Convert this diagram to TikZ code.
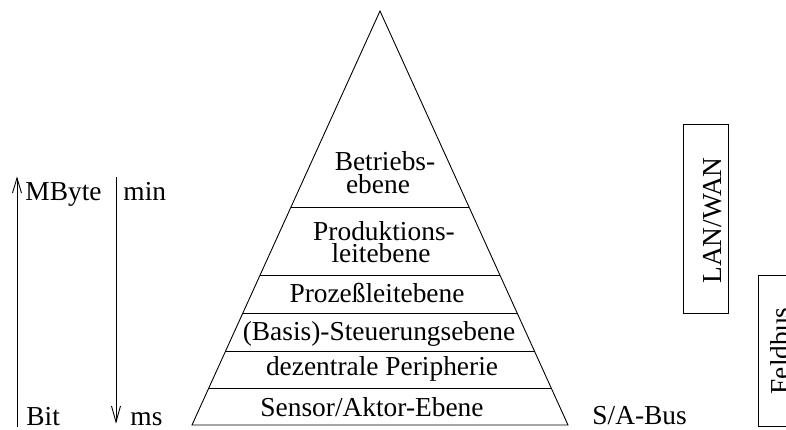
\documentclass[tikz,border=0pt]{standalone}
\usepackage{fontspec}
\setmainfont{Liberation Serif}
\usetikzlibrary{calc}
\begin{document}
\begin{tikzpicture}[x=1pt,y=-1pt,line width=0.9pt,
  lbl/.style={font=\fontsize{27.4}{30}\selectfont,inner sep=0pt,anchor=base,text height=18pt,text depth=4pt},
  lblw/.style={lbl,anchor=base west},
  vlbl/.style={lbl,rotate=90}]
\useasboundingbox (0,0) rectangle (786,429);
\clip (0,0) rectangle (786,429);
% pyramid
\coordinate (apex) at (380,11);
\coordinate (bl) at (192,425);
\coordinate (br) at (568,425);
\draw (bl) -- (apex) -- (br) -- cycle;
\foreach \f in {0.4734,0.6377,0.7295,0.8213,0.9106}
  \draw ($(apex)!\f!(bl)$) -- ($(apex)!\f!(br)$);
% level labels
\node[lbl] (l1a) at (385,170) {Betriebs-};
\node[lbl] (l1b) at (378,193) {ebene};
\node[lbl] (l2a) at (384,240) {Produktions-};
\node[lbl] (l2b) at (381,262) {leitebene};
\node[lbl] (l3) at (377,302) {Prozeßleitebene};
\node[lbl] (l4) at (379,340) {(Basis)-Steuerungsebene};
\node[lbl] (l5) at (382,375) {dezentrale Peripherie};
\node[lbl] (l6) at (372,416) {Sensor/Aktor-Ebene};
% left scales
\coordinate (upb) at (17,427);
\coordinate (upt) at (17,178);
\draw (upb) -- (upt);
\draw ($(upt)+(-4.5,15)$) -- (upt) -- ($(upt)+(4.5,15)$);
\coordinate (dnt) at (116,177);
\coordinate (dnb) at (116,422);
\draw (dnt) -- (dnb);
\draw ($(dnb)+(-4.5,-16)$) -- (dnb) -- ($(dnb)+(4.5,-16)$);
\node[lblw] (mbyte) at (25,200) {MByte};
\node[lblw,text depth=0pt] (bit) at (26,425) {Bit};
\node[lblw] (min) at (123,200) {min};
\node[lblw,text depth=0pt] (ms) at (130,425) {ms};
% bus labels
\node[lblw,text depth=0pt] (sabus) at (592,424) {S/A-Bus};
\draw (683,124) rectangle (728,313);
\node[vlbl] (lan) at (721,220.5) {LAN/WAN};
\draw (758,275) rectangle (803,426);
\node[vlbl] (feld) at (789,351) {Feldbus};
\end{tikzpicture}
\end{document}
